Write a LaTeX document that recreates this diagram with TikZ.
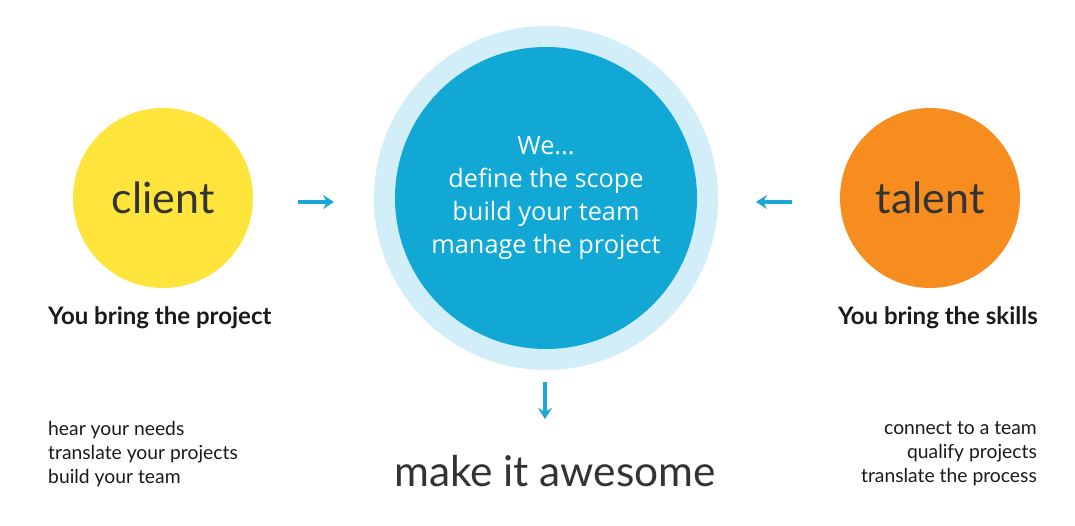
\documentclass[tikz,border=0pt]{standalone}
\usepackage{fontspec}
\setmainfont{Lato}
\newfontfamily\centrefont{Open Sans}
\usetikzlibrary{arrows.meta}
\definecolor{clientyellow}{HTML}{FFE43C}
\definecolor{talentorange}{HTML}{F78D1F}
\definecolor{ringblue}{HTML}{D2EEF8}
\definecolor{coreblue}{HTML}{11A8D6}
\definecolor{arrowblue}{HTML}{1AA7D6}
\definecolor{textgray}{HTML}{333333}
\definecolor{bodyblack}{HTML}{1A1A1A}
\tikzset{
  side/.style={circle, minimum size=180pt, inner sep=0pt, text=textgray,
    font=\fontsize{43}{50}\selectfont},
  heading/.style={font=\bfseries\fontsize{24}{28}\selectfont, text=bodyblack, inner sep=0pt},
  listtext/.style={font=\fontsize{19.3}{24}\selectfont, text=bodyblack, inner sep=0pt},
  flow/.style={arrowblue, line width=3.2pt,
    -{Stealth[length=11pt, width=14pt, inset=4pt]}},
}
\begin{document}
\begin{tikzpicture}[x=1pt, y=-1pt]
  \useasboundingbox[fill=white] (0,0) rectangle (1075,526);

  % centre: light ring and core circle
  \fill[ringblue] (546,198) circle (172);
  \node[circle, fill=coreblue, minimum size=302pt, inner sep=0pt] (core) at (546,198) {};
  \node[text=white, align=center, font=\centrefont\fontsize{25.3}{33}\selectfont, inner sep=0pt]
    (wetext) at (546,198) {We...\\define the scope\\build your team\\manage the project};

  % side circles
  \node[side, fill=clientyellow] (client) at (163,198) {client};
  \node[side, fill=talentorange] (talent) at (930,198) {talent};

  % headings
  \node[heading, anchor=base west] (bringproject) at (48,324) {You bring the project};
  \node[heading, anchor=base east] (bringskills) at (1038,324) {You bring the skills};

  % lists
  \node[listtext, anchor=north west, align=left] (clientlist) at (48,421)
    {hear your needs\\translate your projects\\build your team};
  \node[listtext, anchor=north east, align=right] (talentlist) at (1037,421)
    {connect to a team\\qualify projects\\translate the process};

  % result
  \node[font=\fontsize{42.4}{50}\selectfont, text=textgray, inner sep=0pt, anchor=base]
    (awesome) at (555,486) {make it awesome};

  % arrows
  \coordinate (lfrom) at (298,202);
  \coordinate (lto) at (334,202);
  \coordinate (rfrom) at (792,202);
  \coordinate (rto) at (756,202);
  \coordinate (dfrom) at (545,382);
  \coordinate (dto) at (545,419);
  \draw[flow] (lfrom) -- (lto);
  \draw[flow] (rfrom) -- (rto);
  \draw[flow] (dfrom) -- (dto);
\end{tikzpicture}
\end{document}
